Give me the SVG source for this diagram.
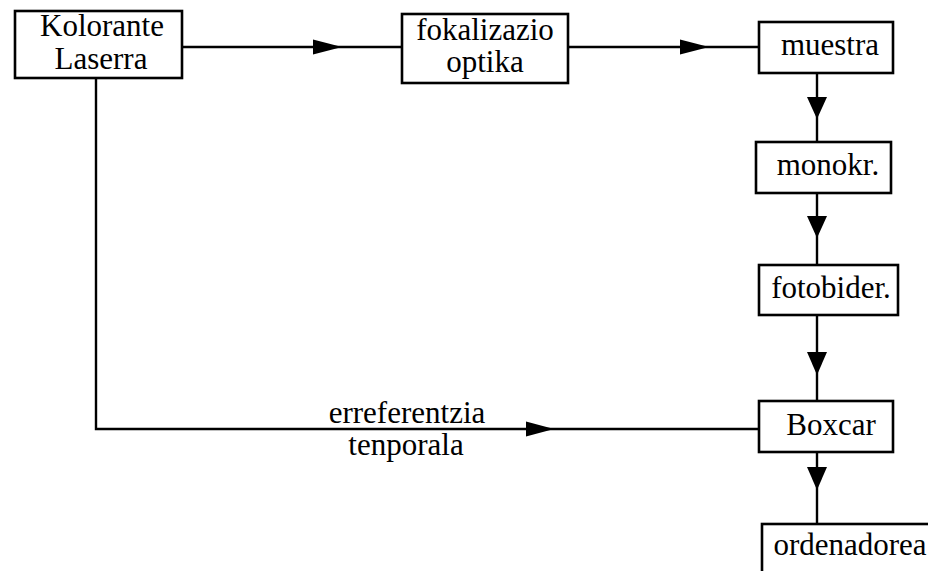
<svg xmlns="http://www.w3.org/2000/svg" width="928" height="571" viewBox="0 0 928 571">
<style>
.box{fill:#fff;stroke:#000;stroke-width:2.6}
.ln{fill:none;stroke:#000;stroke-width:2.4}
.ah{fill:#000;stroke:none}
text{font-family:"Liberation Serif","Times New Roman",serif;font-size:31px;fill:#000;text-anchor:middle}
</style>
<rect width="928" height="571" fill="#fff"/>
<g id="connectors">
<polyline class="ln" points="182,47 402,47"/>
<polygon class="ah" points="313,39.5 342,47 313,54.5"/>
<polyline class="ln" points="568,47 759,47"/>
<polygon class="ah" points="680,39.5 709,47 680,54.5"/>
<polyline class="ln" points="817,73 817,142"/>
<polygon class="ah" points="807,97 827,97 817,119"/>
<polyline class="ln" points="817,193 817,265"/>
<polygon class="ah" points="807,216 827,216 817,238"/>
<polyline class="ln" points="817,315 817,401"/>
<polygon class="ah" points="807,352 827,352 817,375"/>
<polyline class="ln" points="817,452 817,524"/>
<polygon class="ah" points="807,467 827,467 817,490"/>
<polyline class="ln" points="96,78 96,429 759,429"/>
<polygon class="ah" points="526,421.5 554,429 526,436.5"/>
<text x="407" y="423">erreferentzia</text>
<text x="406" y="455">tenporala</text>
</g>
<g id="kolorante">
<rect class="box" x="15" y="11" width="167" height="67"/>
<text x="102" y="36">Kolorante</text>
<text x="101" y="69">Laserra</text>
</g>
<g id="fokalizazio">
<rect class="box" x="402" y="14" width="166" height="69"/>
<text x="485" y="40">fokalizazio</text>
<text x="485" y="72">optika</text>
</g>
<g id="muestra">
<rect class="box" x="759" y="22" width="134" height="51"/>
<text x="830" y="55">muestra</text>
</g>
<g id="monokr">
<rect class="box" x="756" y="142" width="135" height="51"/>
<text x="828" y="175">monokr.</text>
</g>
<g id="fotobider">
<rect class="box" x="759" y="265" width="139" height="50"/>
<text x="831" y="298">fotobider.</text>
</g>
<g id="boxcar">
<rect class="box" x="759" y="401" width="134" height="51"/>
<text x="831" y="435">Boxcar</text>
</g>
<g id="ordenadorea">
<rect class="box" x="762" y="524" width="200" height="70"/>
<text x="850" y="555">ordenadorea</text>
</g>
</svg>
